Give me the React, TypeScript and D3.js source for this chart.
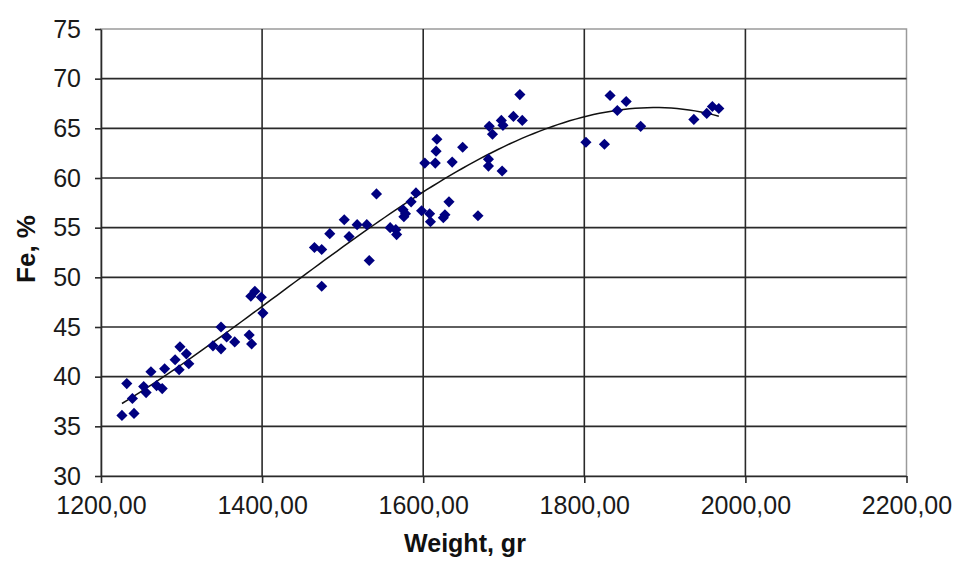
import React, { useRef, useEffect } from "react";
import * as d3 from "d3";

// weight of sample, gr
const weights = [
  1226, 1232, 1239, 1241, 1253, 1256, 1262, 1269, 1276, 1279, 1292, 1297, 1298,
  1306, 1309, 1339, 1349, 1349, 1356, 1366, 1384, 1387, 1386, 1391, 1399, 1401,
  1465, 1474, 1474, 1484, 1502, 1508, 1518, 1530, 1533, 1542, 1559, 1566, 1567,
  1575, 1576, 1578, 1585, 1591, 1598, 1602, 1608, 1609, 1615, 1616, 1617, 1625,
  1627, 1632, 1636, 1649, 1668, 1681, 1681, 1682, 1686, 1697, 1699, 1698, 1712,
  1720, 1723, 1802, 1825, 1832, 1841, 1852, 1870, 1936, 1952, 1959, 1967,
];
// Fe content, %
const feValues = [
  36.1, 39.3, 37.8, 36.3, 39.0, 38.4, 40.5, 39.1, 38.8, 40.8, 41.7, 40.7, 43.0,
  42.3, 41.3, 43.1, 45.0, 42.8, 44.0, 43.5, 44.2, 43.3, 48.1, 48.6, 48.0, 46.4,
  53.0, 52.8, 49.1, 54.4, 55.8, 54.1, 55.3, 55.3, 51.7, 58.4, 55.0, 54.8, 54.3,
  56.8, 56.1, 56.4, 57.6, 58.5, 56.7, 61.5, 56.4, 55.6, 61.5, 62.7, 63.9, 56.0,
  56.3, 57.6, 61.6, 63.1, 56.2, 61.9, 61.2, 65.2, 64.4, 65.8, 65.3, 60.7, 66.2,
  68.4, 65.8, 63.6, 63.4, 68.3, 66.8, 67.7, 65.2, 65.9, 66.5, 67.2, 67.0,
];

const xTicks = [1200, 1400, 1600, 1800, 2000, 2200];
const yTicks = [30, 35, 40, 45, 50, 55, 60, 65, 70, 75];

// least squares polynomial (order 3) trend, like the spreadsheet trendline
function polyFit(xs: number[], ys: number[], order: number) {
  const c = 1600, s = 400;
  const n = order + 1;
  const A = Array.from({ length: n }, () => new Array(n + 1).fill(0));
  xs.forEach((xv, k) => {
    const t = (xv - c) / s;
    for (let i = 0; i < n; i++) {
      for (let j = 0; j < n; j++) A[i][j] += Math.pow(t, i + j);
      A[i][n] += Math.pow(t, i) * ys[k];
    }
  });
  for (let i = 0; i < n; i++) {
    let p = i;
    for (let r = i + 1; r < n; r++) if (Math.abs(A[r][i]) > Math.abs(A[p][i])) p = r;
    [A[i], A[p]] = [A[p], A[i]];
    for (let r = 0; r < n; r++) {
      if (r === i) continue;
      const f = A[r][i] / A[i][i];
      for (let k = i; k <= n; k++) A[r][k] -= f * A[i][k];
    }
  }
  const coef = A.map((row, i) => row[n] / row[i]);
  return (xv: number) => {
    const t = (xv - c) / s;
    return coef.reduce((acc, a, i) => acc + a * Math.pow(t, i), 0);
  };
}

const App = () => {
  const svgRef = useRef<SVGSVGElement | null>(null);

  useEffect(() => {
    const svg = d3.select(svgRef.current);
    svg.selectAll("*").remove();

    const left = 101, right = 906.5, top = 29, bottom = 476;
    const x = d3.scaleLinear().domain([1200, 2200]).range([left, right]);
    const y = d3.scaleLinear().domain([30, 75]).range([bottom, top]);
    const font = "'Liberation Sans', Arial, sans-serif";

    // plot border (light) on top / right
    svg.append("rect")
      .attr("x", left).attr("y", top)
      .attr("width", right - left).attr("height", bottom - top)
      .attr("fill", "white")
      .attr("stroke", "#9a9a9a").attr("stroke-width", 1.5);

    // horizontal grid
    svg.append("g")
      .selectAll("line")
      .data(yTicks.filter((d) => d > 30 && d < 75))
      .enter()
      .append("line")
      .attr("x1", left).attr("x2", right)
      .attr("y1", (d) => y(d)).attr("y2", (d) => y(d))
      .attr("stroke", "#2a2a2a").attr("stroke-width", 1.6);

    // vertical grid
    svg.append("g")
      .selectAll("line")
      .data(xTicks.filter((d) => d > 1200 && d < 2200))
      .enter()
      .append("line")
      .attr("x1", (d) => x(d)).attr("x2", (d) => x(d))
      .attr("y1", top).attr("y2", bottom)
      .attr("stroke", "#2a2a2a").attr("stroke-width", 1.6);

    // y axis
    const yAxis = svg.append("g")
      .attr("transform", `translate(${left},0)`)
      .call(d3.axisLeft(y).tickValues(yTicks).tickSize(6).tickSizeOuter(0).tickPadding(14));
    // x axis
    const xAxis = svg.append("g")
      .attr("transform", `translate(0,${bottom})`)
      .call(
        d3.axisBottom(x).tickValues(xTicks).tickSize(7).tickSizeOuter(0).tickPadding(13)
          .tickFormat((d) => d3.format(".2f")(d as number).replace(".", ","))
      );
    [xAxis, yAxis].forEach((g) => {
      g.selectAll("path, line").attr("stroke", "#2a2a2a").attr("stroke-width", 1.6);
      g.selectAll("text")
        .style("font-family", font)
        .style("font-size", "25px")
        .attr("fill", "#1a1a1a");
    });

    // trend line
    const fit = polyFit(weights, feValues, 3);
    const [xMin, xMax] = d3.extent(weights) as [number, number];
    const trend = d3.range(0, 101).map((i) => {
      const xv = xMin + ((xMax - xMin) * i) / 100;
      return [xv, fit(xv)] as [number, number];
    });
    svg.append("path")
      .datum(trend)
      .attr("fill", "none")
      .attr("stroke", "#111")
      .attr("stroke-width", 1.5)
      .attr("d", d3.line().x((d) => x(d[0])).y((d) => y(d[1])));

    // data points (diamonds)
    const diamond = d3.symbol().type(d3.symbolSquare).size(62);
    svg.append("g")
      .selectAll("path")
      .data(weights.map((w, i) => ({ w, fe: feValues[i] })))
      .enter()
      .append("path")
      .attr("d", diamond)
      .attr("transform", (d) => `translate(${x(d.w)},${y(d.fe)}) rotate(45)`)
      .attr("fill", "#000080");

    // axis titles
    svg.append("text")
      .attr("x", 465).attr("y", 552)
      .attr("text-anchor", "middle")
      .style("font-family", font).style("font-size", "25px").style("font-weight", "bold")
      .attr("fill", "#111")
      .text("Weight, gr");
    svg.append("text")
      .attr("transform", "translate(35,249) rotate(-90)")
      .attr("text-anchor", "middle")
      .style("font-family", font).style("font-size", "26px").style("font-weight", "bold")
      .attr("fill", "#111")
      .text("Fe, %");
  }, []);

  return (
    <svg
      ref={svgRef}
      width={957}
      height={563}
      style={{ position: "absolute", left: 0, top: 0, background: "white" }}
    ></svg>
  );
};

export default App;
